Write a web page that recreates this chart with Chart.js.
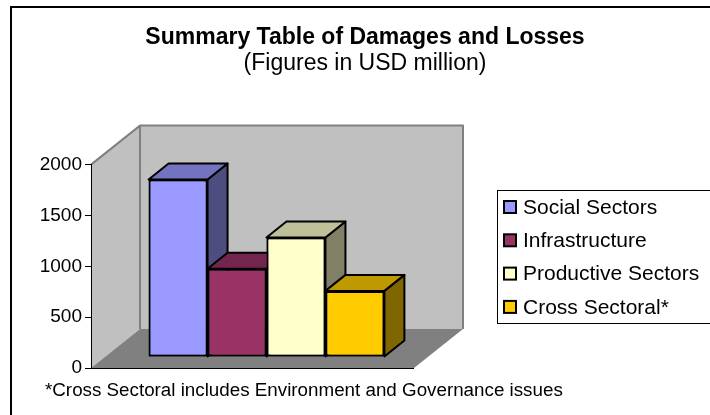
<!DOCTYPE html>
<html lang="en">
<head>
  <meta charset="UTF-8">
  <title>Summary Table of Damages and Losses</title>
  <script src="https://cdn.jsdelivr.net/npm/chart.js"></script>
  <style>
    html, body {
      margin: 0;
      padding: 0;
      background: #fff;
      overflow: hidden;
    }
    canvas {
      display: block;
    }
  </style>
</head>
<body>
  <canvas id="grafico" width="730" height="430"></canvas>

  <script>
    // dados (USD milhões)
    const setores = ['Social Sectors', 'Infrastructure', 'Productive Sectors', 'Cross Sectoral*'];
    const valores = [1745, 867, 1175, 650];
    const cores = ['#9999FF', '#993366', '#FFFFCC', '#FFCC00'];
    const ticksY = [0, 500, 1000, 1500, 2000];
    const titulo = 'Summary Table of Damages and Losses';
    const subtitulo = '(Figures in USD million)';
    const nota = '*Cross Sectoral includes Environment and Governance issues';

    const FONTE = 'Arial, "Liberation Sans", sans-serif';

    function escurecer(hex, f) {
      const n = parseInt(hex.slice(1), 16);
      const r = Math.round(((n >> 16) & 255) * f);
      const g = Math.round(((n >> 8) & 255) * f);
      const b = Math.round((n & 255) * f);
      return `rgb(${r},${g},${b})`;
    }

    function poligono(c, pts, fill, stroke, lw) {
      c.beginPath();
      c.moveTo(pts[0][0], pts[0][1]);
      for (let i = 1; i < pts.length; i++) c.lineTo(pts[i][0], pts[i][1]);
      c.closePath();
      if (fill) { c.fillStyle = fill; c.fill(); }
      if (stroke) { c.strokeStyle = stroke; c.lineWidth = lw; c.stroke(); }
    }

    // profundidade das paredes e das barras (efeito 3D do Excel)
    const PAREDE = { dx: 49, dy: -39 };
    const BARRA = { dx: 20, dy: -16 };
    const DESLOC = { dx: 14, dy: -11 };

    const cena3d = {
      id: 'cena3d',
      beforeDraw(chart) {
        const { ctx: c, chartArea: a, scales: { y } } = chart;
        c.save();
        c.fillStyle = '#fff';
        c.fillRect(0, 0, chart.width, chart.height);
        c.strokeStyle = '#000';
        c.lineWidth = 2;
        c.strokeRect(11, 7, chart.width, chart.height);

        const L = a.left, R = a.right;
        const T = y.getPixelForValue(ticksY[ticksY.length - 1]);
        const B = y.getPixelForValue(0);
        const dx = PAREDE.dx, dy = PAREDE.dy;
        c.lineJoin = 'round';
        poligono(c, [[L, B], [L, T], [L + dx, T + dy], [L + dx, B + dy]], '#C0C0C0');
        poligono(c, [[L + dx, T + dy], [R + dx, T + dy], [R + dx, B + dy], [L + dx, B + dy]], '#C0C0C0');
        poligono(c, [[L, B], [R, B], [R + dx, B + dy], [L + dx, B + dy]], '#808080');

        c.strokeStyle = '#808080';
        c.lineWidth = 2;
        c.beginPath();
        c.moveTo(L, T);
        c.lineTo(L + dx, T + dy);
        c.lineTo(R + dx, T + dy);
        c.lineTo(R + dx, B + dy);
        c.moveTo(L + dx, T + dy);
        c.lineTo(L + dx, B + dy);
        c.stroke();

        c.strokeStyle = '#000';
        c.lineWidth = 1;
        c.beginPath();
        c.moveTo(L, B + 0.5);
        c.lineTo(R, B + 0.5);
        c.stroke();
        c.restore();
      },
      beforeDatasetsDraw(chart) {
        chart.ctx.save();
        chart.ctx.translate(DESLOC.dx, DESLOC.dy);
      },
      afterDatasetsDraw(chart) {
        const c = chart.ctx;
        // da esquerda para a direita: lateral, topo e frente de cada barra
        chart.data.datasets.forEach((ds, i) => {
          const el = chart.getDatasetMeta(i).data[0];
          const { x, y, base, width } = el.getProps(['x', 'y', 'base', 'width'], true);
          const l = x - width / 2, r = x + width / 2;
          const dx = BARRA.dx, dy = BARRA.dy;
          c.save();
          c.lineJoin = 'round';
          poligono(c, [[r, y], [r + dx, y + dy], [r + dx, base + dy], [r, base]], escurecer(cores[i], 0.5), '#000', 2);
          poligono(c, [[l, y], [l + dx, y + dy], [r + dx, y + dy], [r, y]], escurecer(cores[i], 0.75), '#000', 2);
          c.restore();
          el.draw(c);
        });
        c.restore();
      },
      afterDraw(chart) {
        const c = chart.ctx;
        c.save();
        // legenda
        c.strokeStyle = '#000';
        c.lineWidth = 1;
        c.strokeRect(497.5, 190.5, 300, 133);
        c.font = '21px ' + FONTE;
        c.textBaseline = 'middle';
        c.textAlign = 'left';
        setores.forEach((nome, i) => {
          const cy = 207 + i * 33.3;
          c.fillStyle = cores[i];
          c.fillRect(504, cy - 6, 12, 12);
          c.strokeStyle = '#000';
          c.lineWidth = 2;
          c.strokeRect(504, cy - 6, 12, 12);
          c.fillStyle = '#000';
          c.fillText(nome, 523, cy + 1);
        });
        // nota de rodapé
        c.font = '18.8px ' + FONTE;
        c.textBaseline = 'alphabetic';
        c.fillText(nota, 45, 396);
        c.restore();
      }
    };

    const config = {
      type: 'bar',
      data: {
        labels: [''],
        datasets: setores.map((nome, i) => ({
          label: nome,
          data: [valores[i]],
          backgroundColor: cores[i],
          borderColor: '#000',
          borderWidth: 2,
          borderSkipped: false,
          categoryPercentage: 0.73,
          barPercentage: 1
        }))
      },
      options: {
        responsive: false,
        animation: false,
        events: [],
        layout: {
          padding: { top: 7, right: 0, bottom: 62, left: 0 }
        },
        scales: {
          x: { display: false },
          y: {
            min: 0,
            max: 2000,
            afterFit(scale) { scale.width = 91; },
            afterBuildTicks(scale) { scale.ticks = ticksY.map(v => ({ value: v })); },
            ticks: {
              color: '#000',
              padding: 3,
              font: { family: FONTE, size: 19 },
              callback: v => String(v)
            },
            grid: {
              drawOnChartArea: false,
              drawTicks: true,
              tickLength: 6,
              color: '#000'
            },
            border: { display: true, color: '#000', width: 1 }
          },
          yFundo: {
            position: 'right',
            afterFit(scale) { scale.width = 730 - 414; },
            ticks: { display: false },
            grid: { display: false },
            border: { display: false }
          }
        },
        plugins: {
          legend: { display: false },
          tooltip: { enabled: false },
          title: {
            display: true,
            text: titulo,
            color: '#000',
            font: { family: FONTE, size: 23, weight: 'bold', lineHeight: 1.1 },
            padding: { top: 18, bottom: 0 }
          },
          subtitle: {
            display: true,
            text: subtitulo,
            color: '#000',
            font: { family: FONTE, size: 23, weight: 'normal', lineHeight: 1.1 },
            padding: { top: 1, bottom: 88 }
          }
        }
      },
      plugins: [cena3d]
    };

    const grafico = new Chart(document.getElementById('grafico').getContext('2d'), config);
  </script>
</body>
</html>
